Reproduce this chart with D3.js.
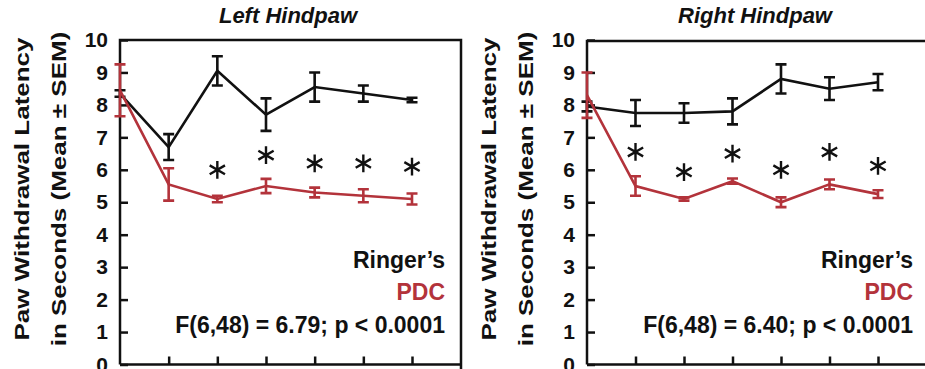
<!DOCTYPE html>
<html>
<head>
<meta charset="utf-8">
<script src="https://cdn.jsdelivr.net/npm/d3@7"></script>
<style>
  body { margin: 0; background: #fff; }
  text { font-family: 'Liberation Sans', Arial, sans-serif; font-weight: bold; }
</style>
</head>
<body>
<div id="chart"></div>
<script>
// time points (x index), y ticks
const timePoints = [0, 1, 2, 3, 4, 5, 6];
const yTicks = [0, 1, 2, 3, 4, 5, 6, 7, 8, 9, 10];

// Left hindpaw
const leftRinger = [8.35, 6.7, 9.05, 7.7, 8.55, 8.35, 8.15];
const leftRingerErr = [0.1, 0.4, 0.45, 0.5, 0.45, 0.25, 0.07];
const leftPDC = [8.45, 5.55, 5.1, 5.5, 5.3, 5.2, 5.1];
const leftPDCErr = [0.8, 0.5, 0.1, 0.22, 0.15, 0.2, 0.17];
const leftStarIdx = [2, 3, 4, 5, 6];
const leftStarY = [6.0, 6.45, 6.2, 6.2, 6.1];

// Right hindpaw
const rightRinger = [7.95, 7.75, 7.75, 7.8, 8.8, 8.5, 8.7];
const rightRingerErr = [0.15, 0.4, 0.3, 0.4, 0.45, 0.35, 0.25];
const rightPDC = [8.3, 5.5, 5.1, 5.65, 5.0, 5.55, 5.25];
const rightPDCErr = [0.7, 0.3, 0.05, 0.08, 0.15, 0.15, 0.12];
const rightStarIdx = [1, 2, 3, 4, 5, 6];
const rightStarY = [6.55, 5.93, 6.5, 6.0, 6.55, 6.12];

const panels = [
  { title: "Left Hindpaw", left: 120, right: 461, top: 40, lastX: 412, titleX: 288, legendX: 445,
    ringer: leftRinger, ringerErr: leftRingerErr, pdc: leftPDC, pdcErr: leftPDCErr,
    starIdx: leftStarIdx, starY: leftStarY, stat: "F(6,48) = 6.79; p < 0.0001" },
  { title: "Right Hindpaw", left: 587, right: 940, top: 41, lastX: 878, titleX: 755, legendX: 913,
    ringer: rightRinger, ringerErr: rightRingerErr, pdc: rightPDC, pdcErr: rightPDCErr,
    starIdx: rightStarIdx, starY: rightStarY, stat: "F(6,48) = 6.40; p < 0.0001" }
];

const black = "#111";
const red = "#b3333b";

const W = 925, H = 369;
const svg = d3.select("#chart").append("svg")
  .attr("width", W)
  .attr("height", H);

const y = d3.scaleLinear().domain([0, 10]).range([364.5, 40]);

panels.forEach(p => {
  const g = svg.append("g");
  const x = d3.scaleLinear().domain([0, 6]).range([p.left, p.lastX]);

  // frame
  g.append("path")
    .attr("d", `M${p.left},${y(0)}V${p.top}H${p.right}V${H + 5}M${p.left},${y(0)}H${p.right}`)
    .attr("fill", "none")
    .attr("stroke", black)
    .attr("stroke-width", 2.5);

  // y axis (ticks inward)
  const yAxis = g.append("g")
    .attr("transform", `translate(${p.left},0)`)
    .call(d3.axisLeft(y).tickValues(yTicks).tickSize(-8).tickPadding(12).tickFormat(d3.format("d")));
  yAxis.select(".domain").remove();
  yAxis.selectAll("line").attr("stroke", black).attr("stroke-width", 2.5);
  yAxis.selectAll("text")
    .attr("font-size", 21)
    .attr("font-family", "'Liberation Sans', Arial, sans-serif")
    .attr("font-weight", "bold")
    .attr("fill", black);

  // x axis ticks (no labels)
  const xAxis = g.append("g")
    .attr("transform", `translate(0,${y(0)})`)
    .call(d3.axisBottom(x).tickValues(timePoints.slice(1)).tickSize(-8).tickFormat(""));
  xAxis.select(".domain").remove();
  xAxis.selectAll("line").attr("stroke", black).attr("stroke-width", 2.5);

  // y axis title (glyphs a bit condensed, as in the original)
  const yl = g.append("text")
    .attr("transform", `translate(${p.left - 91},${189}) scale(0.8,1) rotate(-90)`)
    .attr("text-anchor", "middle")
    .attr("font-size", 26)
    .attr("fill", black);
  yl.append("tspan").attr("x", 0).attr("y", 0).text("Paw Withdrawal Latency");
  yl.append("tspan").attr("x", 0).attr("y", 46).text("in Seconds (Mean ± SEM)");

  // panel title
  g.append("text")
    .attr("x", p.titleX)
    .attr("y", 23)
    .attr("text-anchor", "middle")
    .attr("font-size", 22)
    .attr("font-style", "italic")
    .attr("fill", black)
    .text(p.title);

  const line = d3.line().x((d, i) => x(timePoints[i])).y(d => y(d));

  const series = [
    { values: p.ringer, err: p.ringerErr, color: black },
    { values: p.pdc, err: p.pdcErr, color: red }
  ];

  series.forEach(s => {
    g.append("path")
      .datum(s.values)
      .attr("d", line)
      .attr("fill", "none")
      .attr("stroke", s.color)
      .attr("stroke-width", 2.6);

    g.append("g").selectAll("path")
      .data(s.values.map((v, i) => ({ t: timePoints[i], v, e: s.err[i] })))
      .join("path")
      .attr("d", d => {
        const cx = x(d.t), hi = y(d.v + d.e), lo = y(d.v - d.e);
        return `M${cx - 5.5},${hi}H${cx + 5.5}M${cx},${hi}V${lo}M${cx - 5.5},${lo}H${cx + 5.5}`;
      })
      .attr("fill", "none")
      .attr("stroke", s.color)
      .attr("stroke-width", 2.6);
  });

  // significance asterisks
  g.append("g").selectAll("path")
    .data(p.starIdx.map((t, i) => ({ t, v: p.starY[i] })))
    .join("path")
    .attr("transform", d => `translate(${x(d.t)},${y(d.v)})`)
    .attr("d", d3.symbol(d3.symbolAsterisk, 220))
    .attr("fill", "none")
    .attr("stroke", black)
    .attr("stroke-width", 2.4);

  // legend + stats
  g.append("text").attr("x", p.legendX).attr("y", 268).attr("text-anchor", "end")
    .attr("font-size", 23).attr("fill", black).text("Ringer’s");
  g.append("text").attr("x", p.legendX).attr("y", 300).attr("text-anchor", "end")
    .attr("font-size", 23).attr("fill", red).text("PDC");
  g.append("text").attr("x", p.legendX).attr("y", 333).attr("text-anchor", "end")
    .attr("font-size", 23).attr("fill", black).text(p.stat);
});
</script>
</body>
</html>
